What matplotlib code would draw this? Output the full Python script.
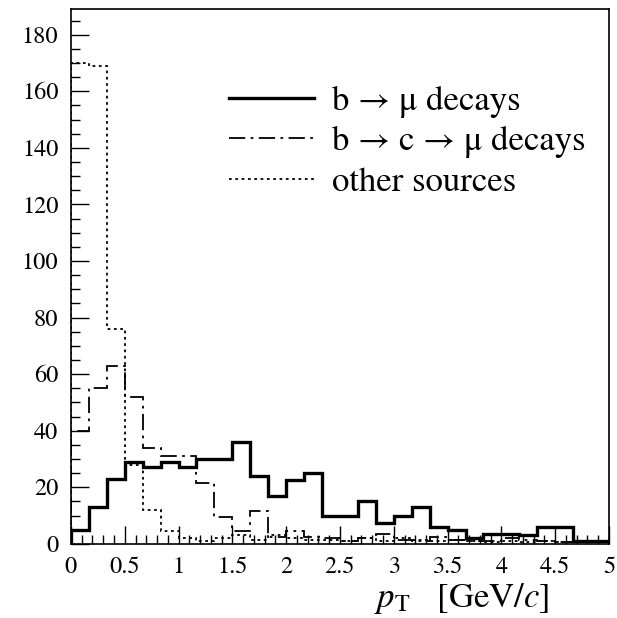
import numpy as np
import matplotlib
matplotlib.use('Agg')
import matplotlib.pyplot as plt
from matplotlib.ticker import MultipleLocator

plt.rcParams['font.family'] = ['STIXGeneral', 'Liberation Serif', 'DejaVu Serif']
plt.rcParams['mathtext.fontset'] = 'stix'

# pT bins, 30 bins from 0 to 5 GeV/c
edges = np.linspace(0, 5, 31)

# b -> mu decays
b_mu = [5, 13, 23, 29, 27, 29, 27, 30, 30, 36,
        24, 17, 22.5, 25, 10, 10, 15, 7.5, 10, 13,
        6, 5, 2, 3.5, 3.5, 3, 6, 6, 1, 1]

# b -> c -> mu decays
b_c_mu = [40, 55, 63, 52, 34, 31, 31, 21.5, 9.5, 4.5,
          11.5, 2.5, 4.5, 2.5, 2, 1, 2, 3.5, 1.5, 1,
          2.5, 1.5, 1, 1, 2, 1.5, 1, 0.5, 0.5, 0.5]

# other sources
other = [170, 169, 76, 28, 12, 4.5, 2, 1, 2, 3,
         1.5, 3, 2, 1.5, 1.5, 1, 2, 1, 2, 1.5,
         1, 1.5, 1, 0.5, 1, 0.5, 1, 0.5, 0.5, 0.5]

fig = plt.figure(figsize=(6.17, 6.18), dpi=100)
ax = fig.add_axes([0.115, 0.12, 0.872, 0.865])

ax.stairs(b_mu, edges, color='black', lw=2.4, label='b → μ decays')
ax.stairs(b_c_mu, edges, color='black', lw=1.3, linestyle=(0, (9, 3, 1.5, 3)),
          label='b → c → μ decays')
ax.stairs(other, edges, color='black', lw=1.3, linestyle=(0, (1.5, 2)),
          label='other sources')

ax.set_xlim(0, 5)
ax.set_ylim(0, 189)

ax.xaxis.set_major_locator(MultipleLocator(0.5))
ax.xaxis.set_minor_locator(MultipleLocator(0.1))
ax.yaxis.set_major_locator(MultipleLocator(20))
ax.yaxis.set_minor_locator(MultipleLocator(5))
ax.xaxis.set_major_formatter(matplotlib.ticker.FuncFormatter(lambda v, p: '%g' % v))
ax.tick_params(which='both', direction='in', top=False, right=False,
               labelsize=17.5, width=1)
ax.tick_params(which='major', length=13)
ax.tick_params(which='minor', length=6.5)
ax.tick_params(axis='y', pad=9)
ax.tick_params(axis='x', pad=9)
for s in ax.spines.values():
    s.set_linewidth(1.2)

ax.set_xlabel(r'$p_{\mathrm{T}}$   [GeV/$c$]', fontsize=25)
ax.xaxis.set_label_coords(0.727, -0.07)

ax.legend(loc='upper left', bbox_to_anchor=(0.236, 0.916), frameon=False,
          fontsize=25, handlelength=2.45, handletextpad=0.5, labelspacing=0.24)

fig.savefig('out.png', dpi=100)
